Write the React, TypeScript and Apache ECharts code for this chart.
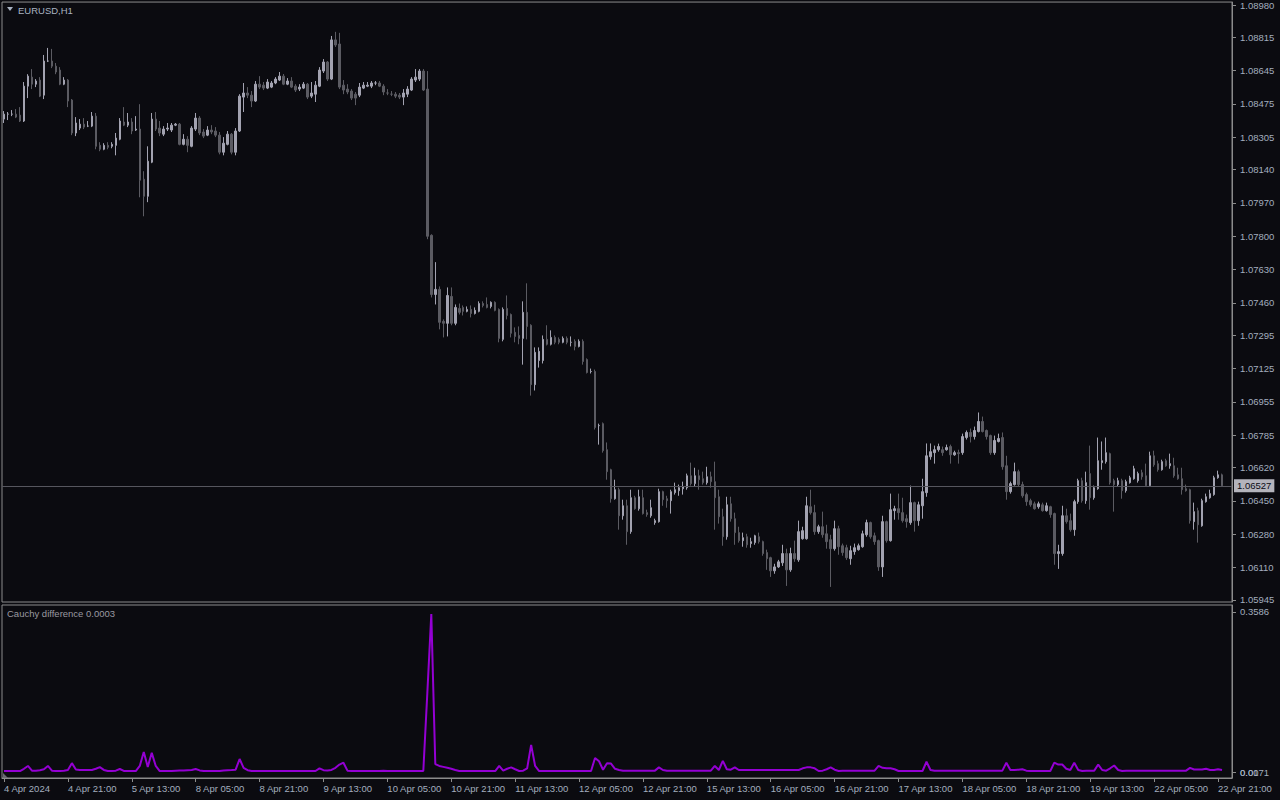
import React, { useEffect, useRef } from "react";
import * as echarts from "echarts";

const symbolTitle = "EURUSD,H1";
const indicatorTitle = "Cauchy difference 0.0003";

const timeLabels = [
  "4 Apr 2024", "4 Apr 21:00", "5 Apr 13:00", "8 Apr 05:00", "8 Apr 21:00",
  "9 Apr 13:00", "10 Apr 05:00", "10 Apr 21:00", "11 Apr 13:00", "12 Apr 05:00",
  "12 Apr 21:00", "15 Apr 13:00", "16 Apr 05:00", "16 Apr 21:00", "17 Apr 13:00",
  "18 Apr 05:00", "18 Apr 21:00", "19 Apr 13:00", "22 Apr 05:00", "22 Apr 21:00",
];

const priceTicks = [
  1.0898, 1.08815, 1.08645, 1.08475, 1.08305, 1.0814, 1.0797, 1.078, 1.0763, 1.0746,
  1.07295, 1.07125, 1.06955, 1.06785, 1.0662, 1.0645, 1.0628, 1.0611, 1.05945,
];
const indicatorTicks = [0.0171, 0.3586];
const indicatorZeroTick = [0.0171];

const opens = [
  1.08398,1.08423,1.08423,1.08423,1.08418,1.08388,1.08566,1.08612,1.08576,1.08597,
  1.08520,1.08694,1.08694,1.08668,1.08648,1.08576,1.08597,1.08495,1.08327,1.08352,
  1.08372,1.08362,1.08362,1.08413,1.08264,1.08244,1.08264,1.08259,1.08264,1.08295,
  1.08383,1.08367,1.08383,1.08342,1.08347,1.08091,1.08004,1.08178,1.08398,1.08352,
  1.08321,1.08347,1.08342,1.08367,1.08372,1.08269,1.08295,1.08259,1.08347,1.08403,
  1.08332,1.08316,1.08342,1.08337,1.08316,1.08229,1.08269,1.08321,1.08229,1.08337,
  1.08510,1.08531,1.08520,1.08490,1.08576,1.08571,1.08556,1.08561,1.08582,1.08597,
  1.08617,1.08576,1.08592,1.08566,1.08551,1.08556,1.08576,1.08515,1.08525,1.08566,
  1.08643,1.08689,1.08602,1.08802,1.08781,1.08571,1.08551,1.08541,1.08525,1.08520,
  1.08556,1.08566,1.08566,1.08582,1.08582,1.08566,1.08531,1.08525,1.08525,1.08520,
  1.08510,1.08525,1.08546,1.08597,1.08602,1.08643,1.08551,1.07805,1.07503,1.07529,
  1.07366,1.07356,1.07493,1.07356,1.07432,1.07437,1.07417,1.07427,1.07406,1.07417,
  1.07457,1.07452,1.07442,1.07463,1.07427,1.07274,1.07432,1.07401,1.07310,1.07294,
  1.07279,1.07412,1.07346,1.07043,1.07166,1.07166,1.07274,1.07249,1.07284,1.07274,
  1.07259,1.07279,1.07259,1.07264,1.07238,1.07264,1.07171,1.07110,1.07110,1.06834,
  1.06844,1.06711,1.06609,1.06461,1.06507,1.06374,1.06425,1.06293,1.06466,1.06410,
  1.06466,1.06390,1.06374,1.06339,1.06344,1.06497,1.06461,1.06451,1.06492,1.06502,
  1.06512,1.06517,1.06578,1.06538,1.06578,1.06563,1.06543,1.06573,1.06548,1.06471,
  1.06369,1.06267,1.06435,1.06359,1.06288,1.06247,1.06267,1.06232,1.06237,1.06267,
  1.06242,1.06186,1.06160,1.06093,1.06113,1.06134,1.06181,1.06098,1.06181,1.06149,
  1.06257,1.06257,1.06420,1.06390,1.06293,1.06318,1.06282,1.06252,1.06206,1.06308,
  1.06221,1.06211,1.06155,1.06191,1.06201,1.06216,1.06277,1.06339,1.06272,1.06247,
  1.06113,1.06344,1.06247,1.06400,1.06410,1.06390,1.06359,1.06339,1.06441,1.06349,
  1.06425,1.06492,1.06675,1.06696,1.06711,1.06711,1.06711,1.06727,1.06685,1.06696,
  1.06696,1.06773,1.06799,1.06778,1.06804,1.06855,1.06809,1.06783,1.06696,1.06753,
  1.06773,1.06629,1.06497,1.06533,1.06599,1.06533,1.06482,1.06451,1.06435,1.06420,
  1.06430,1.06400,1.06420,1.06385,1.06181,1.06181,1.06374,1.06349,1.06303,1.06446,
  1.06553,1.06451,1.06589,1.06466,1.06512,1.06645,1.06650,1.06691,1.06553,1.06533,
  1.06553,1.06502,1.06543,1.06563,1.06553,1.06594,1.06578,1.06528,1.06680,1.06640,
  1.06609,1.06655,1.06629,1.06629,1.06583,1.06563,1.06512,1.06507,1.06344,1.06400,
  1.06323,1.06446,1.06466,1.06482,1.06568,1.06583,
];

const closes = [
  1.08423,1.08423,1.08423,1.08408,1.08388,1.08566,1.08617,1.08576,1.08592,1.08515,
  1.08694,1.08694,1.08668,1.08638,1.08576,1.08597,1.08490,1.08327,1.08378,1.08372,
  1.08357,1.08362,1.08413,1.08259,1.08244,1.08264,1.08254,1.08269,1.08301,1.08388,
  1.08367,1.08383,1.08337,1.08347,1.08086,1.08004,1.08183,1.08398,1.08347,1.08327,
  1.08347,1.08352,1.08367,1.08372,1.08269,1.08295,1.08264,1.08352,1.08403,1.08327,
  1.08311,1.08342,1.08332,1.08316,1.08229,1.08275,1.08321,1.08229,1.08337,1.08515,
  1.08531,1.08520,1.08490,1.08576,1.08561,1.08556,1.08587,1.08582,1.08602,1.08617,
  1.08576,1.08592,1.08561,1.08546,1.08561,1.08576,1.08510,1.08531,1.08571,1.08648,
  1.08689,1.08602,1.08802,1.08776,1.08561,1.08546,1.08536,1.08505,1.08505,1.08561,
  1.08571,1.08571,1.08582,1.08582,1.08566,1.08536,1.08531,1.08525,1.08515,1.08510,
  1.08531,1.08551,1.08602,1.08612,1.08643,1.08546,1.07800,1.07503,1.07529,1.07361,
  1.07356,1.07498,1.07356,1.07437,1.07412,1.07417,1.07427,1.07406,1.07422,1.07457,
  1.07447,1.07437,1.07463,1.07422,1.07279,1.07427,1.07396,1.07305,1.07289,1.07279,
  1.07412,1.07340,1.07043,1.07208,1.07213,1.07274,1.07249,1.07284,1.07259,1.07259,
  1.07279,1.07259,1.07259,1.07238,1.07264,1.07161,1.07105,1.07110,1.06824,1.06834,
  1.06706,1.06599,1.06461,1.06507,1.06374,1.06425,1.06293,1.06466,1.06410,1.06471,
  1.06385,1.06380,1.06415,1.06349,1.06497,1.06456,1.06451,1.06497,1.06507,1.06517,
  1.06522,1.06578,1.06538,1.06578,1.06558,1.06543,1.06573,1.06548,1.06466,1.06369,
  1.06267,1.06430,1.06359,1.06288,1.06247,1.06262,1.06226,1.06242,1.06272,1.06242,
  1.06181,1.06155,1.06093,1.06113,1.06139,1.06181,1.06098,1.06181,1.06155,1.06293,
  1.06298,1.06425,1.06390,1.06293,1.06318,1.06277,1.06242,1.06206,1.06308,1.06216,
  1.06186,1.06160,1.06196,1.06211,1.06221,1.06282,1.06339,1.06267,1.06242,1.06113,
  1.06344,1.06247,1.06405,1.06410,1.06390,1.06349,1.06344,1.06441,1.06349,1.06430,
  1.06497,1.06680,1.06701,1.06711,1.06727,1.06696,1.06722,1.06685,1.06696,1.06691,
  1.06778,1.06799,1.06778,1.06809,1.06855,1.06804,1.06778,1.06696,1.06758,1.06768,
  1.06624,1.06497,1.06538,1.06599,1.06533,1.06476,1.06446,1.06430,1.06410,1.06435,
  1.06400,1.06425,1.06380,1.06181,1.06191,1.06374,1.06344,1.06303,1.06446,1.06553,
  1.06451,1.06543,1.06466,1.06517,1.06655,1.06655,1.06696,1.06543,1.06533,1.06553,
  1.06502,1.06548,1.06568,1.06614,1.06589,1.06573,1.06528,1.06680,1.06634,1.06609,
  1.06650,1.06629,1.06640,1.06578,1.06563,1.06507,1.06502,1.06349,1.06395,1.06328,
  1.06451,1.06471,1.06487,1.06568,1.06583,1.06527,
];

const highs = [
  1.08439,1.08434,1.08444,1.08449,1.08459,1.08587,1.08627,1.08653,1.08602,1.08612,
  1.08725,1.08761,1.08756,1.08684,1.08663,1.08612,1.08602,1.08500,1.08408,1.08398,
  1.08403,1.08388,1.08434,1.08429,1.08280,1.08275,1.08280,1.08280,1.08327,1.08403,
  1.08459,1.08429,1.08403,1.08413,1.08474,1.08132,1.08259,1.08429,1.08434,1.08388,
  1.08362,1.08378,1.08378,1.08378,1.08378,1.08321,1.08311,1.08362,1.08429,1.08413,
  1.08347,1.08362,1.08367,1.08357,1.08332,1.08306,1.08337,1.08327,1.08352,1.08525,
  1.08582,1.08561,1.08541,1.08592,1.08617,1.08587,1.08602,1.08592,1.08612,1.08638,
  1.08628,1.08607,1.08612,1.08576,1.08576,1.08587,1.08582,1.08587,1.08592,1.08663,
  1.08704,1.08694,1.08822,1.08843,1.08838,1.08597,1.08576,1.08551,1.08536,1.08582,
  1.08587,1.08587,1.08592,1.08592,1.08592,1.08576,1.08551,1.08541,1.08536,1.08531,
  1.08551,1.08566,1.08612,1.08653,1.08653,1.08653,1.08643,1.07810,1.07668,1.07544,
  1.07376,1.07539,1.07539,1.07452,1.07457,1.07447,1.07442,1.07447,1.07437,1.07468,
  1.07468,1.07488,1.07468,1.07468,1.07432,1.07437,1.07498,1.07406,1.07335,1.07340,
  1.07468,1.07560,1.07351,1.07233,1.07233,1.07294,1.07346,1.07320,1.07294,1.07284,
  1.07289,1.07289,1.07289,1.07274,1.07274,1.07274,1.07177,1.07125,1.07120,1.06844,
  1.06850,1.06748,1.06614,1.06558,1.06517,1.06456,1.06456,1.06507,1.06476,1.06507,
  1.06507,1.06405,1.06456,1.06359,1.06512,1.06502,1.06476,1.06507,1.06543,1.06533,
  1.06548,1.06589,1.06645,1.06619,1.06609,1.06599,1.06624,1.06599,1.06650,1.06507,
  1.06410,1.06471,1.06471,1.06390,1.06318,1.06288,1.06282,1.06262,1.06277,1.06288,
  1.06247,1.06201,1.06165,1.06129,1.06149,1.06226,1.06206,1.06211,1.06247,1.06349,
  1.06318,1.06471,1.06507,1.06430,1.06328,1.06395,1.06328,1.06277,1.06349,1.06323,
  1.06232,1.06226,1.06221,1.06232,1.06232,1.06298,1.06354,1.06344,1.06288,1.06252,
  1.06374,1.06349,1.06487,1.06425,1.06487,1.06466,1.06380,1.06528,1.06446,1.06446,
  1.06563,1.06743,1.06743,1.06732,1.06742,1.06727,1.06737,1.06737,1.06706,1.06711,
  1.06793,1.06809,1.06819,1.06829,1.06901,1.06880,1.06814,1.06788,1.06783,1.06793,
  1.06799,1.06680,1.06548,1.06645,1.06609,1.06548,1.06492,1.06461,1.06446,1.06446,
  1.06441,1.06441,1.06425,1.06390,1.06226,1.06425,1.06410,1.06385,1.06456,1.06563,
  1.06568,1.06599,1.06732,1.06528,1.06773,1.06753,1.06773,1.06696,1.06563,1.06568,
  1.06563,1.06558,1.06578,1.06629,1.06599,1.06609,1.06640,1.06701,1.06706,1.06655,
  1.06660,1.06665,1.06691,1.06670,1.06619,1.06619,1.06533,1.06512,1.06441,1.06415,
  1.06461,1.06487,1.06507,1.06578,1.06604,1.06589,
];

const lows = [
  1.08378,1.08393,1.08413,1.08403,1.08383,1.08383,1.08505,1.08551,1.08561,1.08510,
  1.08500,1.08689,1.08658,1.08627,1.08571,1.08571,1.08459,1.08316,1.08311,1.08342,
  1.08347,1.08357,1.08357,1.08244,1.08234,1.08239,1.08244,1.08249,1.08213,1.08290,
  1.08362,1.08357,1.08321,1.08337,1.07999,1.07902,1.07974,1.08173,1.08337,1.08311,
  1.08311,1.08337,1.08332,1.08362,1.08264,1.08264,1.08229,1.08254,1.08337,1.08316,
  1.08301,1.08311,1.08321,1.08306,1.08218,1.08213,1.08264,1.08218,1.08213,1.08332,
  1.08434,1.08505,1.08459,1.08485,1.08551,1.08546,1.08551,1.08556,1.08576,1.08592,
  1.08571,1.08571,1.08556,1.08536,1.08541,1.08551,1.08500,1.08505,1.08485,1.08561,
  1.08633,1.08592,1.08597,1.08766,1.08551,1.08525,1.08525,1.08495,1.08469,1.08510,
  1.08551,1.08561,1.08556,1.08571,1.08561,1.08520,1.08520,1.08515,1.08505,1.08500,
  1.08469,1.08510,1.08541,1.08587,1.08592,1.08541,1.07785,1.07488,1.07452,1.07325,
  1.07284,1.07289,1.07346,1.07346,1.07401,1.07396,1.07412,1.07386,1.07401,1.07412,
  1.07437,1.07432,1.07432,1.07417,1.07259,1.07264,1.07376,1.07284,1.07259,1.07249,
  1.07145,1.07274,1.06987,1.07013,1.07130,1.07151,1.07243,1.07243,1.07249,1.07249,
  1.07254,1.07249,1.07238,1.07218,1.07233,1.07145,1.07100,1.07100,1.06814,1.06737,
  1.06696,1.06558,1.06441,1.06456,1.06303,1.06354,1.06226,1.06282,1.06405,1.06400,
  1.06380,1.06369,1.06364,1.06328,1.06339,1.06425,1.06415,1.06385,1.06482,1.06476,
  1.06482,1.06507,1.06528,1.06522,1.06507,1.06533,1.06533,1.06517,1.06303,1.06334,
  1.06221,1.06252,1.06344,1.06226,1.06237,1.06216,1.06211,1.06211,1.06226,1.06232,
  1.06170,1.06098,1.06062,1.06078,1.06108,1.06118,1.06016,1.06088,1.06139,1.06139,
  1.06252,1.06252,1.06380,1.06277,1.06282,1.06262,1.06206,1.06011,1.06196,1.06175,
  1.06170,1.06149,1.06124,1.06175,1.06196,1.06211,1.06267,1.06257,1.06226,1.06093,
  1.06062,1.06237,1.06242,1.06354,1.06354,1.06339,1.06313,1.06328,1.06293,1.06323,
  1.06359,1.06471,1.06660,1.06640,1.06701,1.06680,1.06706,1.06640,1.06680,1.06640,
  1.06685,1.06763,1.06748,1.06763,1.06799,1.06799,1.06763,1.06685,1.06685,1.06748,
  1.06609,1.06456,1.06487,1.06528,1.06522,1.06466,1.06425,1.06420,1.06405,1.06410,
  1.06395,1.06395,1.06364,1.06124,1.06103,1.06170,1.06334,1.06293,1.06272,1.06435,
  1.06441,1.06435,1.06405,1.06456,1.06507,1.06609,1.06640,1.06533,1.06395,1.06522,
  1.06461,1.06492,1.06538,1.06558,1.06543,1.06558,1.06522,1.06522,1.06624,1.06599,
  1.06604,1.06624,1.06614,1.06568,1.06558,1.06482,1.06497,1.06334,1.06303,1.06237,
  1.06318,1.06441,1.06461,1.06476,1.06563,1.06527,
];

const cauchy = [
  0.0192,0.0192,0.0192,0.0192,0.0192,0.0240,0.0300,0.0200,0.0200,0.0210,
  0.0230,0.0300,0.0200,0.0192,0.0192,0.0200,0.0215,0.0360,0.0225,0.0214,
  0.0214,0.0214,0.0214,0.0240,0.0275,0.0215,0.0192,0.0192,0.0200,0.0235,
  0.0195,0.0192,0.0192,0.0192,0.0300,0.0600,0.0280,0.0580,0.0300,0.0192,
  0.0192,0.0192,0.0192,0.0200,0.0205,0.0205,0.0210,0.0214,0.0235,0.0205,
  0.0192,0.0192,0.0192,0.0192,0.0192,0.0205,0.0210,0.0214,0.0220,0.0448,
  0.0260,0.0210,0.0192,0.0192,0.0192,0.0192,0.0192,0.0192,0.0192,0.0192,
  0.0192,0.0192,0.0192,0.0192,0.0192,0.0192,0.0192,0.0192,0.0192,0.0250,
  0.0210,0.0205,0.0215,0.0260,0.0330,0.0370,0.0200,0.0192,0.0192,0.0192,
  0.0192,0.0192,0.0192,0.0192,0.0192,0.0200,0.0192,0.0192,0.0192,0.0192,
  0.0192,0.0192,0.0192,0.0192,0.0192,0.0192,0.1850,0.3543,0.0340,0.0300,
  0.0280,0.0260,0.0240,0.0214,0.0192,0.0192,0.0192,0.0192,0.0192,0.0192,
  0.0192,0.0192,0.0192,0.0192,0.0300,0.0200,0.0240,0.0270,0.0230,0.0192,
  0.0200,0.0250,0.0750,0.0300,0.0192,0.0192,0.0192,0.0192,0.0192,0.0192,
  0.0192,0.0192,0.0192,0.0192,0.0192,0.0192,0.0192,0.0192,0.0470,0.0400,
  0.0220,0.0360,0.0350,0.0240,0.0214,0.0200,0.0200,0.0200,0.0200,0.0200,
  0.0200,0.0200,0.0200,0.0200,0.0270,0.0214,0.0200,0.0200,0.0200,0.0200,
  0.0200,0.0200,0.0200,0.0200,0.0200,0.0200,0.0200,0.0200,0.0300,0.0214,
  0.0410,0.0230,0.0220,0.0270,0.0214,0.0214,0.0214,0.0214,0.0214,0.0214,
  0.0214,0.0214,0.0214,0.0214,0.0214,0.0214,0.0214,0.0214,0.0214,0.0214,
  0.0250,0.0270,0.0270,0.0250,0.0192,0.0200,0.0230,0.0270,0.0220,0.0192,
  0.0200,0.0200,0.0200,0.0200,0.0200,0.0200,0.0200,0.0200,0.0200,0.0300,
  0.0260,0.0250,0.0250,0.0230,0.0192,0.0192,0.0192,0.0192,0.0192,0.0192,
  0.0192,0.0390,0.0214,0.0200,0.0200,0.0200,0.0200,0.0200,0.0200,0.0200,
  0.0200,0.0200,0.0200,0.0200,0.0200,0.0200,0.0200,0.0200,0.0200,0.0200,
  0.0200,0.0370,0.0214,0.0214,0.0220,0.0230,0.0200,0.0192,0.0192,0.0192,
  0.0192,0.0192,0.0192,0.0370,0.0330,0.0330,0.0240,0.0214,0.0370,0.0214,
  0.0192,0.0200,0.0200,0.0200,0.0330,0.0214,0.0200,0.0250,0.0310,0.0214,
  0.0192,0.0200,0.0200,0.0200,0.0200,0.0200,0.0200,0.0200,0.0200,0.0200,
  0.0200,0.0200,0.0200,0.0200,0.0200,0.0200,0.0200,0.0260,0.0225,0.0225,
  0.0225,0.0240,0.0214,0.0214,0.0230,0.0214,
];

const BG = "#0b0b10";
const FRAME = "#8c8c8c";
const TEXT = "#a3aebf";
const FONT = '"Liberation Sans", Arial, sans-serif';

export default function App() {
  const ref = useRef<HTMLDivElement>(null);

  useEffect(() => {
    if (!ref.current) return;
    const chart = echarts.init(ref.current, undefined, { renderer: "svg" });
    const categories = Array.from({ length: opens.length + 2 }, (_, i) => String(i));
    const candles = opens.map((o, i) => [o, closes[i], lows[i], highs[i]]);
    const lastPrice = closes[closes.length - 1];

    chart.setOption({
      animation: false,
      backgroundColor: BG,
      textStyle: { fontFamily: FONT },
      grid: [
        { left: 2, top: 2, width: 1230, height: 600, show: true, borderColor: FRAME, borderWidth: 1 },
        { left: 2, top: 605, width: 1230, height: 173, show: true, borderColor: FRAME, borderWidth: 1 },
      ],
      xAxis: [
        { type: "category", gridIndex: 0, data: categories, boundaryGap: true, show: false },
        {
          type: "category",
          gridIndex: 1,
          data: categories,
          boundaryGap: true,
          axisLine: { show: true, lineStyle: { color: FRAME, width: 1 } },
          axisTick: { show: true, alignWithLabel: true, interval: 15, length: 4, lineStyle: { color: FRAME } },
          axisLabel: {
            interval: 15,
            align: "left",
            margin: 5,
            color: TEXT,
            fontSize: 9.5,
            fontFamily: FONT,
            formatter: (_v: string, idx: number) => (idx % 16 === 0 && timeLabels[idx / 16]) || "",
          },
          splitLine: { show: false },
        },
      ],
      yAxis: [
        {
          type: "value",
          gridIndex: 0,
          position: "right",
          min: 1.05934,
          max: 1.08995,
          axisLine: { show: true, lineStyle: { color: FRAME } },
          axisTick: { show: true, length: 4, customValues: priceTicks, lineStyle: { color: FRAME } },
          axisLabel: {
            customValues: priceTicks,
            formatter: (v: number) => v.toFixed(5),
            color: TEXT,
            fontSize: 9.5,
            fontFamily: FONT,
            margin: 8,
          },
          splitLine: { show: false },
        },
        {
          type: "value",
          gridIndex: 1,
          position: "right",
          min: 0.0043,
          max: 0.3735,
          axisLine: { show: true, lineStyle: { color: FRAME } },
          axisTick: { show: true, length: 4, customValues: indicatorTicks, lineStyle: { color: FRAME } },
          axisLabel: {
            customValues: indicatorTicks,
            formatter: (v: number) => v.toFixed(4),
            color: TEXT,
            fontSize: 9.5,
            fontFamily: FONT,
            margin: 8,
          },
          splitLine: { show: false },
        },
        {
          type: "value",
          gridIndex: 1,
          position: "right",
          min: 0.0043,
          max: 0.3735,
          axisLine: { show: false },
          axisTick: { show: false },
          axisLabel: {
            customValues: indicatorZeroTick,
            formatter: () => "0.00",
            color: TEXT,
            fontSize: 9.5,
            fontFamily: FONT,
            margin: 8,
          },
          splitLine: { show: false },
        },
      ],
      series: [
        {
          type: "candlestick",
          xAxisIndex: 0,
          yAxisIndex: 0,
          data: candles,
          barWidth: 2,
          silent: true,
          itemStyle: {
            color: "#a3a3b1",
            color0: "#5b5b62",
            borderColor: "#a3a3b1",
            borderColor0: "#5b5b62",
            borderWidth: 1,
          },
          markLine: {
            silent: true,
            precision: 5,
            symbol: ["none", "none"],
            data: [{ yAxis: lastPrice }],
            lineStyle: { color: "#56565e", width: 1, type: "solid" },
            label: {
              show: true,
              position: "end",
              distance: 2,
              formatter: lastPrice.toFixed(5),
              backgroundColor: "#b4b4bc",
              color: "#0b0b14",
              padding: [2, 3, 1, 3],
              fontSize: 9.5,
              fontFamily: FONT,
            },
          },
        },
        {
          type: "line",
          xAxisIndex: 1,
          yAxisIndex: 1,
          data: cauchy,
          symbol: "none",
          silent: true,
          lineStyle: { color: "#9400d3", width: 2 },
          itemStyle: { color: "#9400d3" },
        },
      ],
      graphic: [
        { type: "polygon", shape: { points: [[7, 7], [13, 7], [10, 11]] }, style: { fill: "#a9b3c2" } },
        {
          type: "text",
          x: 18,
          y: 10,
          style: { text: symbolTitle, fill: "#a9b3c2", fontSize: 9.5, fontFamily: FONT, verticalAlign: "middle" },
        },
        {
          type: "text",
          x: 7,
          y: 613,
          style: { text: indicatorTitle, fill: "#9a9aa0", fontSize: 9.5, fontFamily: FONT, verticalAlign: "middle" },
        },
        { type: "polygon", shape: { points: [[3, 773], [3, 778], [8, 778]] }, style: { fill: "#6a6a70" } },
      ],
    });

    return () => chart.dispose();
  }, []);

  return (
    <div
      ref={ref}
      style={{ position: "fixed", left: 0, top: 0, width: 1280, height: 800, background: BG }}
    />
  );
}
